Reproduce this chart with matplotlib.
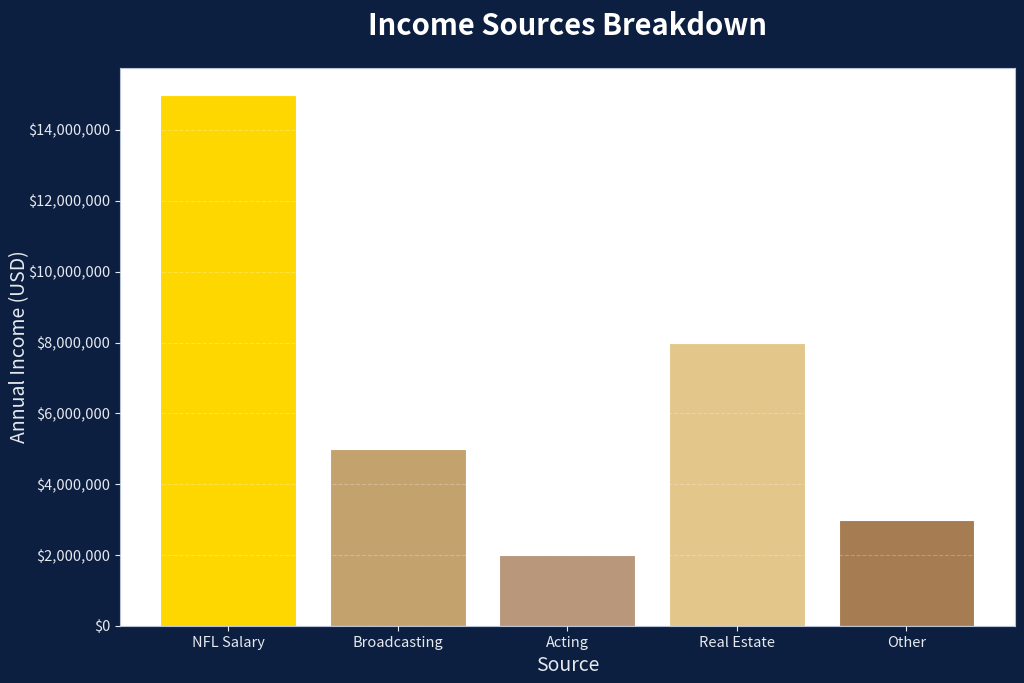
import matplotlib.pyplot as plt
from matplotlib.ticker import FuncFormatter

plt.rcParams['font.family'] = ['Noto Sans CJK SC', 'DejaVu Sans']

sources = ['NFL Salary', 'Broadcasting', 'Acting', 'Real Estate', 'Other']
income = [15000000, 5000000, 2000000, 8000000, 3000000]
bar_colors = ['#FFD700', '#C4A26E', '#B8977A', '#E3C68A', '#A67C52']

bg = '#0C1F40'
fg = '#E6E9EF'

fig = plt.figure(figsize=(10.24, 6.83), dpi=100, facecolor=bg)
ax = fig.add_axes([0.117, 0.0835, 0.874, 0.817])
ax.set_facecolor('white')

ax.bar(sources, income, color=bar_colors, width=0.8, edgecolor='white', linewidth=0.8)

ax.set_ylim(0, max(income) * 1.05)
ax.yaxis.set_major_formatter(FuncFormatter(lambda v, p: '${:,.0f}'.format(v)))
ax.yaxis.grid(True, linestyle='--', color='white', alpha=0.25, linewidth=0.8)
ax.set_axisbelow(False)

ax.set_title('Income Sources Breakdown', color='white', fontsize=21, fontweight='bold', pad=24)
ax.set_xlabel('Source', color=fg, fontsize=14, labelpad=3)
ax.set_ylabel('Annual Income (USD)', color=fg, fontsize=14, labelpad=-2)
ax.tick_params(colors=fg, labelsize=10.5)
ax.tick_params(axis='x', pad=4)
for s in ax.spines.values():
    s.set_color('#B8C2D6')

fig.savefig('out.png', dpi=100, facecolor=bg)
